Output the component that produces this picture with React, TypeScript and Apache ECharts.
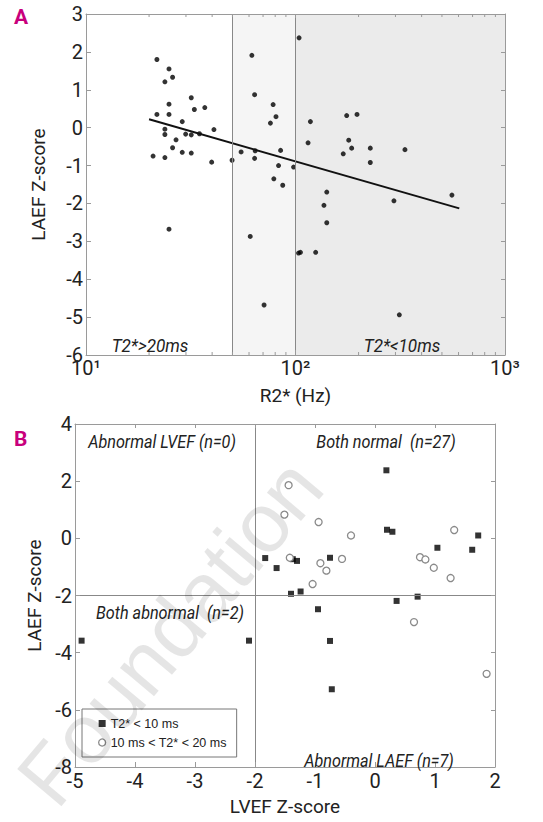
import React, { useEffect, useRef } from "react";
import * as echarts from "echarts";

// ---------- Panel A data: R2* (Hz) vs LAEF Z-score ----------
const aR2 = [
  21.8, 24.9, 23.8, 25.9, 21.8, 24.9, 24.9, 28.8, 31.8, 32.9, 36.9, 23.8, 23.8, 26.9, 29.9, 31.8,
  34.8, 40.8, 25.9, 28.8, 31.8, 20.9, 23.8, 39.8, 49.8, 55.0, 61.9, 63.8, 64.2, 63.8, 78.2, 80.7,
  75.9, 84.9, 83.0, 97.9, 78.8, 86.9, 104.0, 117.8, 114.8, 141, 175.5, 196.6, 179.5, 185.4, 169,
  227.5, 227.5, 333, 558, 136.7, 141, 295, 24.9, 60.8, 103.4, 105.6, 124.8, 70.8, 313,
];
const aLAEF = [
  1.8, 1.55, 1.21, 1.33, 0.35, 0.62, 0.35, 0.16, 0.79, 0.48, 0.53, -0.04, -0.18, -0.32, -0.17, -0.19,
  -0.16, -0.05, -0.53, -0.65, -0.67, -0.75, -0.79, -0.91, -0.86, -0.64, 1.91, 0.87, -0.61, -0.81, 0.61, 0.29,
  0.12, -0.6, -1.0, -1.04, -1.35, -1.52, 2.37, 0.16, -0.4, -1.7, 0.32, 0.35, -0.33, -0.54, -0.69,
  -0.54, -0.92, -0.58, -1.78, -2.05, -2.51, -1.93, -2.68, -2.87, -3.31, -3.29, -3.29, -4.68, -4.94,
];
const aFitX = [20, 605];
const aFitY = [0.22, -2.13];
const aBands = [50, 100, 1000];
const aMinorTicks = [20, 30, 40, 50, 60, 70, 80, 90, 200, 300, 400, 500, 600, 700, 800, 900];
const aZoneLabels = ["T2*>20ms", "T2*<10ms"];

// ---------- Panel B data: LVEF Z-score vs LAEF Z-score ----------
const bLowX = [
  0.19, 0.2, 0.29, 1.72, 1.04, 1.62, -1.83, -1.37, -1.3, -0.75, -1.64, -1.4, -1.24, 0.36, 0.71,
  -0.95, -0.75, -0.72, -4.89, -2.1,
];
const bLowY = [
  2.38, 0.3, 0.23, 0.1, -0.33, -0.4, -0.69, -0.73, -0.79, -0.68, -1.04, -1.94, -1.86, -2.19, -2.04,
  -2.48, -3.59, -5.28, -3.58, -3.58,
];
const bMidX = [-1.44, -1.51, -0.94, -0.4, 1.32, -1.42, -0.91, -0.55, -0.81, -1.04, 0.75, 0.84, 0.98, 1.26, 0.65, 1.86];
const bMidY = [1.86, 0.83, 0.57, 0.1, 0.29, -0.68, -0.87, -0.72, -1.13, -1.6, -0.66, -0.74, -1.03, -1.39, -2.93, -4.74];
const bCut = -2;
const bQuadLabels = ["Abnormal LVEF (n=0)", "Both normal  (n=27)", "Both abnormal  (n=2)", "Abnormal LAEF (n=7)"];
const bSeriesNames = ["T2* < 10 ms", "10 ms < T2* < 20 ms"];

const NARROW = "Roboto, 'Liberation Sans', sans-serif";
const SANS = "'Liberation Sans', Arial, sans-serif";
const AX = "#9a9a9a";
const SUP: Record<number, string> = { 1: "\u00b9", 2: "\u00b2", 3: "\u00b3" };

export default function App() {
  const ref = useRef<HTMLDivElement>(null);
  useEffect(() => {
    if (!ref.current) return;
    const chart = echarts.init(ref.current, undefined, { renderer: "svg" });
    const tickLabel = { color: "#222", fontSize: 20, fontFamily: NARROW };
    const nameStyle = { color: "#222", fontSize: 19, fontFamily: NARROW };
    const hiddenAxis = {
      axisLabel: { show: false },
      axisLine: { show: true, onZero: false, lineStyle: { color: AX } },
      axisTick: { inside: true, length: 4, lineStyle: { color: AX } },
      splitLine: { show: false },
      z: 10,
    };
    const txt = (text: string, x: number, y: number, size: number) => ({
      type: "text", x, y, z: 20, scaleX: 0.9, silent: true,
      style: { text, fill: "#222", font: `italic ${size}px ${NARROW}`, align: "center", verticalAlign: "middle" },
    });
    const option: any = {
      animation: false,
      backgroundColor: "#fff",
      grid: [
        { left: 86, top: 14, width: 419, height: 341 },
        { left: 75, top: 424, width: 420, height: 343 },
      ],
      legend: {
        data: [
          { name: bSeriesNames[0], icon: "rect" },
          { name: bSeriesNames[1], icon: "circle", itemStyle: { color: "#fff", borderColor: "#8a8a8a", borderWidth: 1.3 } },
        ],
        orient: "vertical",
        left: 82,
        top: 709,
        itemWidth: 7,
        itemHeight: 7,
        itemGap: 6,
        padding: [8, 10, 8, 16],
        borderColor: "#777",
        borderWidth: 1,
        backgroundColor: "#fff",
        textStyle: { fontSize: 12.5, fontFamily: SANS, color: "#222" },
      },
      xAxis: [
        {
          gridIndex: 0, type: "log", logBase: 10, min: 10, max: 1000,
          axisLine: { onZero: false, lineStyle: { color: AX } },
          axisTick: { inside: true, length: 5, lineStyle: { color: AX } },
          axisLabel: { ...tickLabel, margin: 3, formatter: (v: number) => "10" + SUP[Math.round(Math.log10(v))] },
          splitLine: { show: false },
          name: "R2* (Hz)", nameLocation: "middle", nameGap: 31, nameTextStyle: nameStyle, z: 10,
        },
        { gridIndex: 0, type: "log", logBase: 10, min: 10, max: 1000, position: "top", ...hiddenAxis },
        {
          gridIndex: 1, type: "value", min: -5, max: 2, interval: 1,
          axisLine: { onZero: false, lineStyle: { color: AX } },
          axisTick: { inside: true, length: 5, lineStyle: { color: AX } },
          axisLabel: { ...tickLabel, margin: 4 },
          splitLine: { show: false },
          name: "LVEF Z-score", nameLocation: "middle", nameGap: 30, nameTextStyle: nameStyle, z: 10,
        },
        { gridIndex: 1, type: "value", min: -5, max: 2, interval: 1, position: "top", ...hiddenAxis },
      ],
      yAxis: [
        {
          gridIndex: 0, type: "value", min: -6, max: 3, interval: 1,
          axisLine: { show: true, onZero: false, lineStyle: { color: AX } },
          axisTick: { show: true, inside: true, length: 5, lineStyle: { color: AX } },
          axisLabel: { ...tickLabel, margin: 3 },
          splitLine: { show: false },
          name: "LAEF Z-score", nameLocation: "middle", nameGap: 38, nameTextStyle: nameStyle, z: 10,
        },
        { gridIndex: 0, type: "value", min: -6, max: 3, interval: 1, position: "right", ...hiddenAxis },
        {
          gridIndex: 1, type: "value", min: -8, max: 4, interval: 2,
          axisLine: { show: true, onZero: false, lineStyle: { color: AX } },
          axisTick: { show: true, inside: true, length: 5, lineStyle: { color: AX } },
          axisLabel: { ...tickLabel, margin: 3 },
          splitLine: { show: false },
          name: "LAEF Z-score", nameLocation: "middle", nameGap: 29, nameTextStyle: nameStyle, z: 10,
        },
        { gridIndex: 1, type: "value", min: -8, max: 4, interval: 2, position: "right", ...hiddenAxis },
      ],
      series: [
        {
          type: "scatter", xAxisIndex: 0, yAxisIndex: 0, symbol: "circle", symbolSize: 5,
          itemStyle: { color: "#000" },
          data: aR2.map((x, i) => [x, aLAEF[i]]),
          markArea: {
            silent: true,
            data: [
              [{ xAxis: aBands[0], itemStyle: { color: "#f5f5f5" } }, { xAxis: aBands[1] }],
              [{ xAxis: aBands[1], itemStyle: { color: "#ebebeb" } }, { xAxis: aBands[2] }],
            ],
          },
          markLine: {
            silent: true, symbol: "none", label: { show: false },
            lineStyle: { color: "#888", type: "solid", width: 1 },
            data: [{ xAxis: aBands[0] }, { xAxis: aBands[1] }],
          },
          z: 3,
        },
        {
          type: "line", xAxisIndex: 0, yAxisIndex: 0, showSymbol: false, symbol: "none",
          lineStyle: { color: "#111", width: 2 },
          data: aFitX.map((x, i) => [x, aFitY[i]]),
          z: 4,
        },
        {
          type: "custom", xAxisIndex: 0, yAxisIndex: 0,
          data: aMinorTicks.map((v) => [v, 0]),
          encode: { x: 0, y: 1 },
          renderItem: (_p: any, api: any) => {
            const v = api.value(0);
            const b = api.coord([v, -6]);
            const t = api.coord([v, 3]);
            const st = { stroke: AX, lineWidth: 1 };
            return {
              type: "group",
              children: [
                { type: "line", shape: { x1: b[0], y1: b[1], x2: b[0], y2: b[1] - 3 }, style: st },
                { type: "line", shape: { x1: t[0], y1: t[1], x2: t[0], y2: t[1] + 3 }, style: st },
              ],
            };
          },
          z: 11, silent: true,
        },
        {
          name: bSeriesNames[0], type: "scatter", xAxisIndex: 2, yAxisIndex: 2, symbol: "rect", symbolSize: 6,
          itemStyle: { color: "#000" },
          data: bLowX.map((x, i) => [x, bLowY[i]]),
          markLine: {
            silent: true, symbol: "none", label: { show: false },
            lineStyle: { color: "#888", type: "solid", width: 1 },
            data: [{ xAxis: bCut }, { yAxis: bCut }],
          },
          z: 4,
        },
        {
          name: bSeriesNames[1], type: "scatter", xAxisIndex: 2, yAxisIndex: 2, symbol: "circle", symbolSize: 7,
          itemStyle: { color: "#fff", borderColor: "#8a8a8a", borderWidth: 1.3, opacity: 1 },
          data: bMidX.map((x, i) => [x, bMidY[i]]),
          z: 5,
        },
      ],
      graphic: [
        { type: "text", left: 14, top: 6, style: { text: "A", fill: "#c8007c", font: `bold 21px ${NARROW}` } },
        { type: "text", left: 14, top: 428, style: { text: "B", fill: "#c8007c", font: `bold 21px ${NARROW}` } },
        txt(aZoneLabels[0], 150, 345, 19),
        txt(aZoneLabels[1], 402, 345, 19),
        txt(bQuadLabels[0], 162, 442, 18),
        txt(bQuadLabels[1], 386, 442, 18),
        txt(bQuadLabels[2], 170, 613, 18),
        txt(bQuadLabels[3], 379, 761, 18),
        {
          type: "text", x: 170, y: 632, rotation: (50 * Math.PI) / 180, z: 30, silent: true,
          style: { text: "Foundation", fill: "rgba(0,0,0,0.10)", font: `84px ${SANS}`, align: "center", verticalAlign: "middle" },
        },
      ],
    };
    chart.setOption(option);
    return () => chart.dispose();
  }, []);
  return <div ref={ref} style={{ position: "fixed", left: 0, top: 0, width: 543, height: 822 }} />;
}
